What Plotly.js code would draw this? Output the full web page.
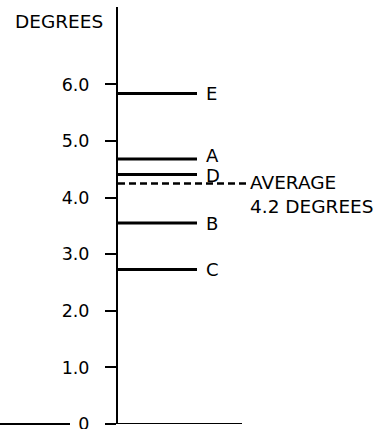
<!DOCTYPE html>
<html>
<head>
<meta charset="utf-8">
<script src="https://cdn.plot.ly/plotly-3.0.1.min.js"></script>
<style>
  html, body { margin: 0; padding: 0; background: #fff; }
  #chart { width: 375px; height: 429px; }
</style>
</head>
<body>
<div id="chart"></div>
<script>
// ---- data ----
const groups = ['E', 'A', 'D', 'B', 'C'];
const degrees = [5.84, 4.68, 4.41, 3.55, 2.73];
const averageValue = 4.25;
const averageLabel = ['AVERAGE', '4.2 DEGREES'];
const tickValues = [0, 1, 2, 3, 4, 5, 6];
const tickLabels = ['0', '1.0', '2.0', '3.0', '4.0', '5.0', '6.0'];
const axisTitle = 'DEGREES';

// ---- layout constants (pixel-like x units, plot width = 257) ----
const FONT = 'DejaVu Sans, Verdana, sans-serif';
const barLen = 79;
const labelX = 86;
const avgLen = 131;
const xAxisEnd = 124;
const labelShift = { A: 4, D: -1 };

const traces = groups.map((g, i) => ({
  type: 'scatter', mode: 'lines',
  x: [0, barLen], y: [degrees[i], degrees[i]],
  line: { color: '#000', width: 3 },
  hoverinfo: 'skip', showlegend: false
}));
traces.push({
  type: 'scatter', mode: 'lines',
  x: [0, avgLen], y: [averageValue, averageValue],
  line: { color: '#000', width: 2.5, dash: '7px,4px' },
  hoverinfo: 'skip', showlegend: false
});
traces.push({
  type: 'scatter', mode: 'lines',
  x: [0, xAxisEnd], y: [0, 0],
  line: { color: '#000', width: 2 },
  hoverinfo: 'skip', showlegend: false, cliponaxis: false
});

const annotations = groups.map((g, i) => ({
  x: labelX, y: degrees[i], xref: 'x', yref: 'y',
  text: g, showarrow: false, xanchor: 'left', yanchor: 'middle',
  yshift: labelShift[g] || 0,
  font: { family: FONT, size: 18, color: '#000' }
}));
annotations.push({
  x: avgLen - 1, y: averageValue, xref: 'x', yref: 'y',
  text: averageLabel.join('<br>'), showarrow: false,
  xanchor: 'left', yanchor: 'top', align: 'left', yshift: 13,
  font: { family: FONT, size: 18.5, color: '#000' }
});
annotations.push({
  x: -13 / 257, y: 0.965, xref: 'paper', yref: 'paper',
  text: axisTitle, showarrow: false, xanchor: 'right', yanchor: 'middle',
  font: { family: FONT, size: 18.5, color: '#000' }
});

const layout = {
  width: 375, height: 429,
  margin: { l: 118, r: 0, t: 7, b: 5 },
  paper_bgcolor: '#fff', plot_bgcolor: '#fff',
  showlegend: false,
  xaxis: { range: [0, 257], visible: false, fixedrange: true },
  yaxis: {
    range: [0, 417 / 56.6],
    tickvals: tickValues, ticktext: tickLabels,
    ticks: 'outside', ticklen: 11, tickwidth: 2, tickcolor: '#000',
    showline: true, linecolor: '#000', linewidth: 2,
    showgrid: false, zeroline: false,
    tickfont: { family: FONT, size: 17.5, color: '#000' },
    ticklabelstandoff: 12,
    ticklabeloverflow: 'allow',
    fixedrange: true
  },
  shapes: [{
    type: 'line', xref: 'paper', yref: 'paper',
    x0: -118 / 257, x1: -48 / 257, y0: 0, y1: 0,
    line: { color: '#000', width: 2 }
  }],
  annotations: annotations
};

Plotly.newPlot('chart', traces, layout, { displayModeBar: false, staticPlot: true });
</script>
</body>
</html>
